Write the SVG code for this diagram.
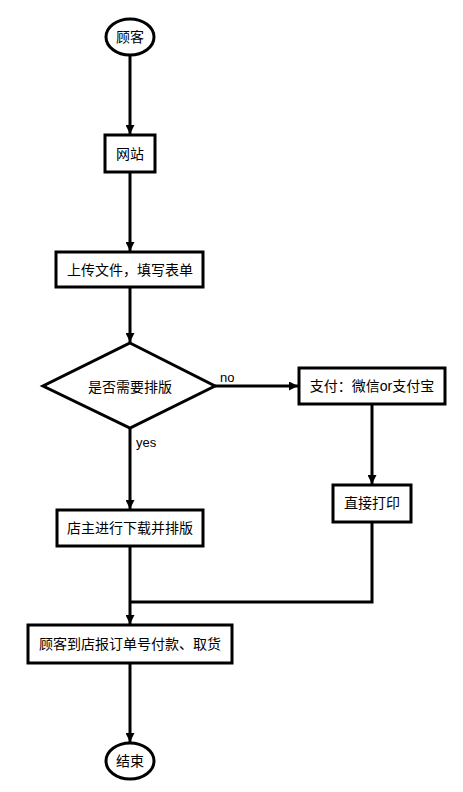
<svg xmlns="http://www.w3.org/2000/svg" width="463" height="792" viewBox="0 0 463 792">
<style>
.n{fill:#fff;stroke:#000;stroke-width:3}
.t{font-family:"Liberation Sans","Noto Sans CJK SC",sans-serif;font-size:14px;fill:#000;text-anchor:middle;dominant-baseline:central}
.l{font-family:"Liberation Sans","Noto Sans CJK SC",sans-serif;font-size:13px;fill:#000}
.c{fill:none;stroke:#000;stroke-width:3}
</style>
<defs>
<marker id="a" viewBox="0 0 10 10" refX="10" refY="5" markerWidth="3" markerHeight="3" orient="auto" markerUnits="strokeWidth">
<path d="M0,0L10,5L0,10z" fill="#000"/>
</marker>
</defs>
<rect width="463" height="792" fill="#fff"/>
<g id="connectors">
<path class="c" d="M130,55V134" marker-end="url(#a)"/>
<path class="c" d="M130,172V251" marker-end="url(#a)"/>
<path class="c" d="M130,287V342" marker-end="url(#a)"/>
<path class="c" d="M215,386H298" marker-end="url(#a)"/>
<path class="c" d="M372,404V484" marker-end="url(#a)"/>
<path class="c" d="M130,428V509" marker-end="url(#a)"/>
<path class="c" d="M130,546V624" marker-end="url(#a)"/>
<path class="c" d="M372,522V602H130"/>
<path class="c" d="M130,663V742" marker-end="url(#a)"/>
<text class="l" x="220" y="382">no</text>
<text class="l" x="136" y="447">yes</text>
</g>
<g id="start"><ellipse class="n" cx="130" cy="37" rx="24" ry="18"/><text class="t" x="130" y="37">顾客</text></g>
<g id="site"><rect class="n" x="105" y="135" width="50" height="37"/><text class="t" x="130" y="154">网站</text></g>
<g id="upload"><rect class="n" x="56" y="252" width="147" height="35"/><text class="t" x="130" y="270">上传文件，填写表单</text></g>
<g id="decision"><path class="n" d="M130,343L215,386L130,428L43,386z"/><text class="t" x="130" y="387">是否需要排版</text></g>
<g id="pay"><rect class="n" x="299" y="368" width="146" height="36"/><text class="t" x="372" y="386">支付：微信or支付宝</text></g>
<g id="print"><rect class="n" x="333" y="485" width="78" height="37"/><text class="t" x="372" y="503">直接打印</text></g>
<g id="layout"><rect class="n" x="57" y="510" width="146" height="36"/><text class="t" x="130" y="528">店主进行下载并排版</text></g>
<g id="pickup"><rect class="n" x="28" y="625" width="204" height="38"/><text class="t" x="130" y="644">顾客到店报订单号付款、取货</text></g>
<g id="end"><ellipse class="n" cx="130" cy="761" rx="24" ry="18"/><text class="t" x="130" y="761">结束</text></g>
</svg>
